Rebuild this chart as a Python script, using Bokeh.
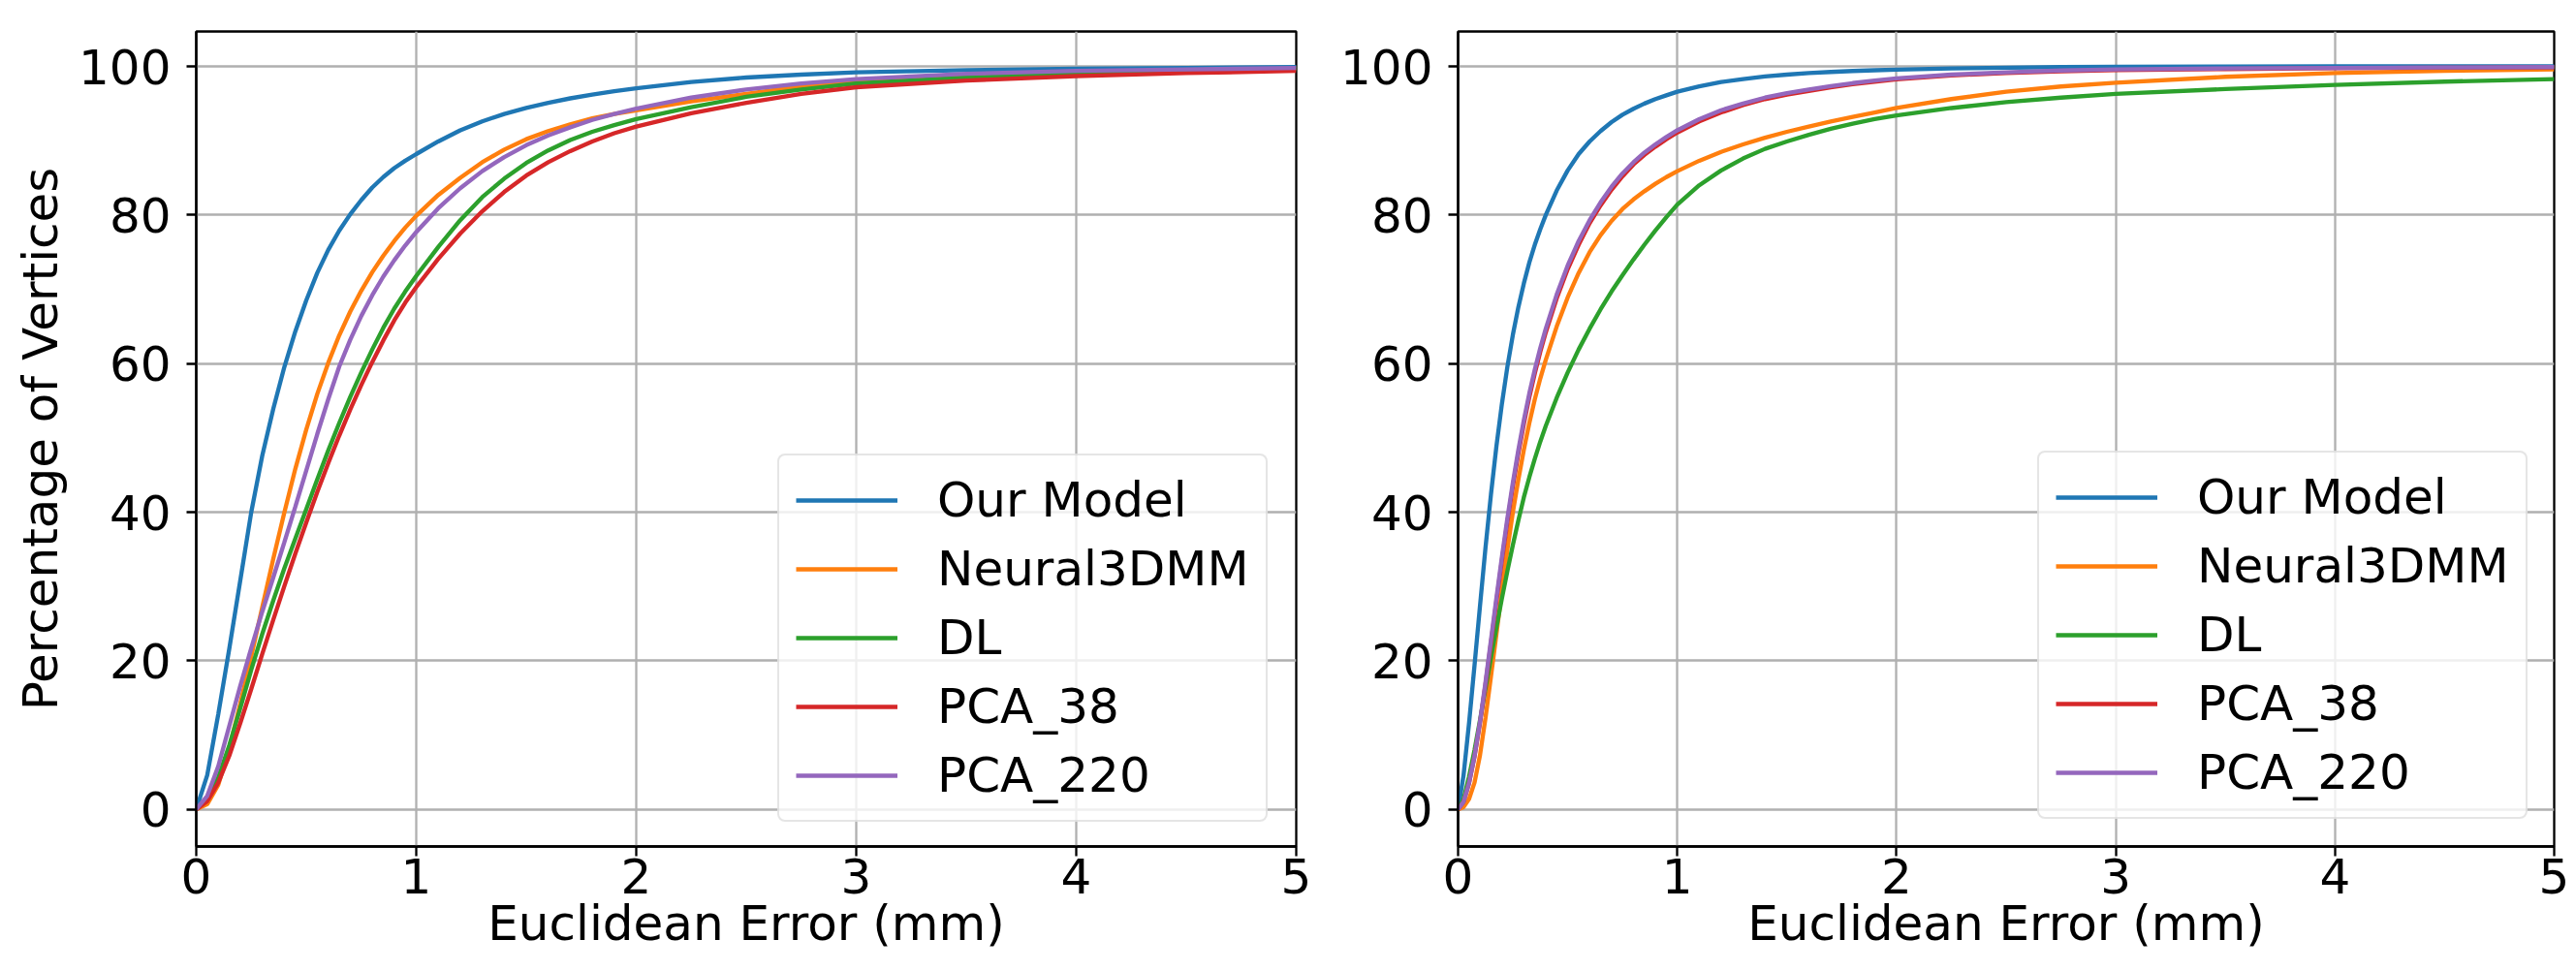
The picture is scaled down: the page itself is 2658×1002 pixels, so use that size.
from bokeh.plotting import figure
from bokeh.layouts import row
from bokeh.models import Range1d, FixedTicker, Legend, LegendItem
from bokeh.embed import file_html
from bokeh.resources import INLINE

# ---------------- data ----------------
series_names = ["Our Model", "Neural3DMM", "DL", "PCA_38", "PCA_220"]
series_colors = ["#1f77b4", "#ff7f0e", "#2ca02c", "#d62728", "#9467bd"]
x_ticks = [0, 1, 2, 3, 4, 5]
y_ticks = [0, 20, 40, 60, 80, 100]
x_label = "Euclidean Error (mm)"
y_label = "Percentage of Vertices"

# left panel
x_left = [0, 0.05, 0.1, 0.15, 0.2, 0.25, 0.3, 0.35, 0.4, 0.45, 0.5, 0.55, 0.6, 0.65,
          0.7, 0.75, 0.8, 0.85, 0.9, 0.95, 1.0,
          1.1, 1.2, 1.3, 1.4, 1.5, 1.6, 1.7, 1.8, 1.9, 2.0,
          2.25, 2.5, 2.75, 3.0, 3.5, 4.0, 4.5, 5.0]
left_our = [0, 4.6, 12.8, 21.6, 30.8, 40.0, 47.6, 53.9, 59.5, 64.3, 68.5, 72.2, 75.3, 77.9,
            80.1, 82.0, 83.7, 85.1, 86.3, 87.3, 88.2,
            89.9, 91.4, 92.6, 93.6, 94.4, 95.1, 95.7, 96.2, 96.65, 97.05,
            97.9, 98.5, 98.9, 99.2, 99.5, 99.7, 99.8, 99.9]
left_neural = [0, 0.7, 3.3, 8.2, 14.2, 20.6, 27.2, 33.7, 39.9, 45.8, 51.1, 55.9, 60.1, 63.8,
               67.0, 69.8, 72.3, 74.5, 76.5, 78.3, 79.9,
               82.7, 85.0, 87.1, 88.8, 90.2, 91.3, 92.2, 93.0, 93.6, 94.1,
               95.3, 96.3, 97.3, 98.0, 98.7, 99.2, 99.5, 99.7]
left_dl = [0, 1.4, 4.3, 8.6, 13.6, 18.8, 23.6, 28.1, 32.4, 36.4, 40.4, 44.4, 48.3, 52.0,
           55.5, 58.8, 61.9, 64.8, 67.4, 69.7, 71.8,
           75.7, 79.3, 82.4, 84.9, 87.0, 88.7, 90.1, 91.2, 92.1, 92.9,
           94.5, 95.9, 96.9, 97.7, 98.5, 99.0, 99.35, 99.6]
left_pca38 = [0, 1.1, 3.6, 7.2, 11.6, 16.2, 20.9, 25.5, 30.0, 34.4, 38.6, 42.7, 46.6, 50.3,
              53.8, 57.1, 60.2, 63.1, 65.8, 68.2, 70.3,
              74.1, 77.5, 80.5, 83.1, 85.3, 87.1, 88.6, 89.9, 91.0, 91.9,
              93.7, 95.1, 96.3, 97.2, 98.1, 98.7, 99.1, 99.4]
left_pca220 = [0, 1.8, 5.8, 11.2, 16.6, 21.7, 26.6, 31.2, 35.9, 40.7, 45.6, 50.5, 55.2, 59.6,
               63.2, 66.4, 69.2, 71.7, 73.9, 75.9, 77.7,
               80.9, 83.6, 85.9, 87.8, 89.4, 90.7, 91.8, 92.8, 93.6, 94.3,
               95.8, 96.9, 97.7, 98.3, 99.0, 99.4, 99.6, 99.8]

# right panel
x_right = [0, 0.025, 0.05, 0.075, 0.1, 0.125, 0.15, 0.175, 0.2, 0.225, 0.25, 0.275,
           0.3, 0.325, 0.35, 0.375, 0.4,
           0.45, 0.5, 0.55, 0.6, 0.65, 0.7, 0.75, 0.8, 0.85, 0.9, 0.95, 1.0,
           1.1, 1.2, 1.3, 1.4, 1.5, 1.6, 1.7, 1.8, 1.9, 2.0,
           2.25, 2.5, 2.75, 3.0, 3.5, 4.0, 4.5, 5.0]
right_our = [0, 4.6, 11.6, 19.4, 27.4, 35.2, 42.4, 48.9, 54.6, 59.6, 63.9, 67.6,
             70.8, 73.6, 76.0, 78.1, 80.0,
             83.3, 86.0, 88.2, 89.9, 91.3, 92.5, 93.5, 94.3, 95.0, 95.6, 96.1, 96.6,
             97.3, 97.9, 98.3, 98.65, 98.9, 99.1, 99.25, 99.38, 99.48, 99.56,
             99.72, 99.83, 99.9, 99.94, 99.98, 100, 100, 100]
right_neural = [0, 0.3, 1.4, 3.6, 7.3, 12.3, 17.9, 23.6, 29.5, 35.0, 40.0, 44.4,
                48.4, 52.0, 55.2, 58.0, 60.5,
                65.0, 68.9, 72.2, 75.0, 77.3, 79.2, 80.8, 82.1, 83.2, 84.2, 85.1, 85.9,
                87.3, 88.5, 89.5, 90.4, 91.2, 91.9, 92.6, 93.2, 93.8, 94.4,
                95.6, 96.6, 97.3, 97.8, 98.6, 99.1, 99.4, 99.6]
right_dl = [0, 1.4, 4.4, 8.0, 12.0, 16.2, 20.4, 24.5, 28.4, 32.1, 35.6, 38.9,
            42.0, 44.7, 47.2, 49.5, 51.6,
            55.4, 58.8, 61.9, 64.7, 67.3, 69.7, 71.9, 74.0, 76.0, 77.9, 79.7, 81.4,
            84.0, 86.0, 87.6, 88.9, 89.9, 90.8, 91.6, 92.3, 92.9, 93.4,
            94.4, 95.2, 95.8, 96.3, 96.95, 97.5, 97.95, 98.3]
right_pca38 = [0, 1.0, 3.5, 7.1, 11.6, 16.8, 22.4, 28.0, 33.5, 38.7, 43.5, 47.9,
               51.9, 55.5, 58.7, 61.6, 64.2,
               68.8, 72.7, 76.0, 78.9, 81.3, 83.4, 85.2, 86.8, 88.1, 89.2, 90.2, 91.1,
               92.6, 93.8, 94.8, 95.6, 96.2, 96.7, 97.2, 97.6, 97.95, 98.25,
               98.8, 99.1, 99.35, 99.5, 99.65, 99.75, 99.82, 99.88]
right_pca220 = [0, 1.0, 3.6, 7.2, 11.8, 17.1, 22.8, 28.5, 34.0, 39.2, 44.0, 48.4,
                52.4, 56.0, 59.2, 62.1, 64.7,
                69.3, 73.2, 76.5, 79.3, 81.7, 83.8, 85.6, 87.1, 88.4, 89.5, 90.5, 91.4,
                92.9, 94.1, 95.0, 95.8, 96.4, 96.9, 97.35, 97.75, 98.1, 98.4,
                98.9, 99.2, 99.45, 99.6, 99.72, 99.8, 99.86, 99.9]

FONT = "DejaVu Sans"
FS = "50px"
GRID_W = 2.3
LINE_W = 4.35


def make_panel(width, height, b_left, b_right, b_top, b_bottom, xs, ys_list,
               legend_loc, ylabel=None):
    p = figure(width=width, height=height, output_backend="svg",
               toolbar_location=None,
               x_range=Range1d(0, 5), y_range=Range1d(-5, 104.7),
               min_border_left=b_left, min_border_right=b_right,
               min_border_top=b_top, min_border_bottom=b_bottom)
    p.background_fill_color = "white"
    p.border_fill_color = "white"
    p.outline_line_color = "black"
    p.outline_line_width = GRID_W
    p.outline_line_alpha = 1.0

    p.xaxis.ticker = FixedTicker(ticks=x_ticks)
    p.yaxis.ticker = FixedTicker(ticks=y_ticks)
    p.xgrid.ticker = FixedTicker(ticks=x_ticks)
    p.ygrid.ticker = FixedTicker(ticks=y_ticks)
    for g in (p.xgrid, p.ygrid):
        g.grid_line_color = "#b0b0b0"
        g.grid_line_width = GRID_W
        g.grid_line_alpha = 1.0

    for ax in (p.xaxis, p.yaxis):
        ax.axis_line_color = "black"
        ax.axis_line_width = GRID_W
        ax.major_tick_line_color = "black"
        ax.major_tick_line_width = GRID_W
        ax.major_tick_in = 0
        ax.major_tick_out = 10
        ax.minor_tick_line_color = None
        ax.major_label_text_font = FONT
        ax.major_label_text_font_size = FS
        ax.major_label_text_color = "black"
        ax.axis_label_text_font = FONT
        ax.axis_label_text_font_size = FS
        ax.axis_label_text_font_style = "normal"
        ax.axis_label_text_color = "black"

    p.xaxis.axis_label = x_label
    p.xaxis.major_label_standoff = 2
    p.xaxis.axis_label_standoff = -1
    p.yaxis.major_label_standoff = 16
    if ylabel:
        p.yaxis.axis_label = ylabel
        p.yaxis.axis_label_standoff = 7

    items = []
    for name, col, ys in zip(series_names, series_colors, ys_list):
        r = p.line(xs, ys, line_color=col, line_width=LINE_W)
        items.append((name, r))

    legend = Legend(items=[LegendItem(label=n, renderers=[r]) for n, r in items],
                    location=legend_loc)
    legend.label_text_font = FONT
    legend.label_text_font_size = FS
    legend.label_text_color = "black"
    legend.glyph_width = 105
    legend.glyph_height = 58
    legend.label_height = 58
    legend.label_standoff = 41
    legend.spacing = 13
    legend.padding = 17
    legend.margin = 0
    legend.border_line_color = "#cccccc"
    legend.border_line_width = 2.3
    legend.background_fill_color = "white"
    legend.background_fill_alpha = 0.8
    try:
        legend.border_radius = 8
    except Exception:
        pass
    p.add_layout(legend, "center")
    return p


p1 = make_panel(1370, 1002, 202, 33, 28, 129, x_left,
                [left_our, left_neural, left_dl, left_pca38, left_pca220],
                (600, 25), ylabel=y_label)
p2 = make_panel(1288, 1002, 134, 23, 32, 129, x_right,
                [right_our, right_neural, right_dl, right_pca38, right_pca220],
                (598, 28))

layout = row(p1, p2)
open("out.html", "w").write(file_html(layout, INLINE))
